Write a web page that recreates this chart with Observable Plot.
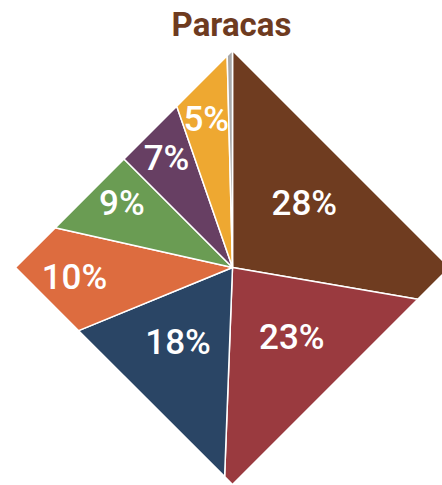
<!DOCTYPE html>
<html><head><meta charset="utf-8">
<script src="https://cdn.jsdelivr.net/npm/d3@7"></script>
<script src="https://cdn.jsdelivr.net/npm/@observablehq/plot@0.6"></script>
<style>body{margin:0;background:#fff}</style>
</head><body><div id="chart"></div>
<script>
const title = "Paracas";
const categories = ["A","B","C","D","E","F","G","H"];
const shares = [27.7, 22.9, 18.2, 9.7, 9.0, 7.2, 4.9, 0.4];
const labels = ["28%","23%","18%","10%","9%","7%","5%",""];
const colors = ["#6f3c20","#9a3a3f","#2a4565","#dd6c3f","#6a9c53","#673f63","#eea831","#a8a8a8"];

const R = 217; // diamond half-diagonal
const total = d3.sum(shares);
function edge(t) {
  const dx = Math.sin(t), dy = -Math.cos(t);
  const r = R / (Math.abs(dx) + Math.abs(dy));
  return [r * dx, r * dy];
}
const vertices = [0, Math.PI/2, Math.PI, 3*Math.PI/2, 2*Math.PI];
const polys = [];
const labelData = [];
let cum = 0;
shares.forEach((v, i) => {
  const a0 = cum / total * 2 * Math.PI;
  cum += v;
  const a1 = cum / total * 2 * Math.PI;
  const pts = [[0, 0], edge(a0)];
  vertices.filter(t => t > a0 + 1e-9 && t < a1 - 1e-9).forEach(t => pts.push(edge(t)));
  pts.push(edge(a1));
  pts.push([0, 0]);
  pts.forEach(([x, y]) => polys.push({cat: categories[i], x, y}));
  const am = (a0 + a1) / 2;
  const [ex, ey] = edge(am);
  const k = v >= 15 ? 0.61 : 0.79;
  if (labels[i]) labelData.push({x: ex * k, y: ey * k, text: labels[i]});
});

const font = "Roboto, 'Liberation Sans', sans-serif";
const chart = Plot.plot({
  width: 442,
  height: 485,
  margin: 0,
  x: {domain: [-232, 210], range: [0, 442], axis: null},
  y: {domain: [-267, 218], range: [0, 485], axis: null},
  color: {domain: categories, range: colors},
  marks: [
    Plot.line(polys, {x: "x", y: "y", z: "cat", fill: "cat", stroke: "white", strokeWidth: 1.5, strokeLinejoin: "round", curve: "linear"}),
    Plot.text(labelData, {x: "x", y: "y", dy: -3, text: "text", fill: "white", fontSize: 35, fontWeight: 500, fontFamily: font, letterSpacing: -1}),
    Plot.text([title], {frameAnchor: "top", lineAnchor: "top", dx: 10, dy: 12, fontSize: 33, fontWeight: "bold", fontFamily: font, letterSpacing: -1.8, fill: "#6e3b1f"})
  ]
});
document.getElementById("chart").append(chart);
</script>
</body></html>
